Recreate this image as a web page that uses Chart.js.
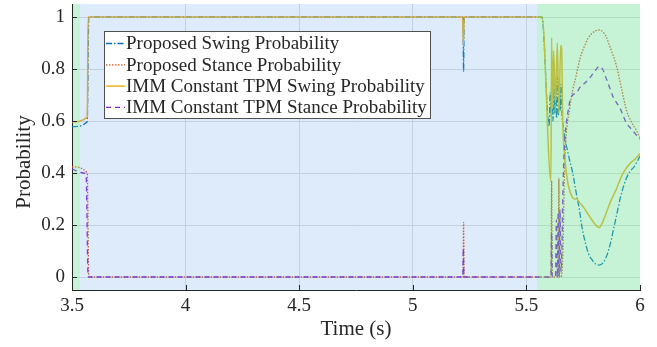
<!DOCTYPE html>
<html>
<head>
<meta charset="utf-8">
<script src="https://cdn.jsdelivr.net/npm/chart.js@4.4.1/dist/chart.umd.min.js"></script>
<style>
html, body { margin: 0; padding: 0; background: #fff; }
</style>
</head>
<body>
<canvas id="gaitChart" width="657" height="347"></canvas>
<script>
// time (s) / probability samples
var propSwingTime = [3.5, 3.567, 3.574, 5.221, 5.2235, 5.226, 5.568, 5.600, 5.605, 5.609, 5.613, 5.617, 5.621, 5.625, 5.629, 5.633, 5.637, 5.641, 5.645, 5.649, 5.653, 5.657, 5.662, 5.670, 5.680, 5.690, 5.704, 5.718, 5.733, 5.745, 5.760, 5.773, 5.790, 5.805, 5.820, 5.838, 5.855, 5.870, 5.885, 5.900, 5.915, 5.930, 5.945, 5.960, 5.975, 5.988, 6.0];
var propSwing = [0.578, 0.597, 1, 1, 0.79, 1, 1, 0.58, 0.71, 0.62, 0.77, 0.60, 0.75, 0.63, 0.74, 0.61, 0.77, 0.62, 0.76, 0.64, 0.74, 0.62, 0.58, 0.53, 0.49, 0.45, 0.40, 0.33, 0.26, 0.19, 0.13, 0.09, 0.065, 0.05, 0.046, 0.055, 0.085, 0.13, 0.19, 0.25, 0.31, 0.355, 0.39, 0.41, 0.425, 0.445, 0.465];

var propStanceTime = [3.5, 3.567, 3.574, 5.221, 5.2235, 5.226, 5.608, 5.611, 5.614, 5.640, 5.643, 5.646, 5.652, 5.660, 5.667, 5.674, 5.689, 5.704, 5.718, 5.736, 5.752, 5.773, 5.800, 5.820, 5.840, 5.853, 5.870, 5.897, 5.920, 5.941, 5.960, 5.980, 6.0];
var propStance = [0.424, 0.40, 0, 0, 0.21, 0, 0, 0.37, 0, 0, 0.38, 0, 0, 0.08, 0.38, 0.53, 0.64, 0.72, 0.77, 0.84, 0.88, 0.92, 0.945, 0.95, 0.94, 0.92, 0.88, 0.81, 0.72, 0.64, 0.60, 0.57, 0.535];

var immSwingTime = [3.5, 3.567, 3.571, 5.219, 5.2225, 5.226, 5.569, 5.608, 5.611, 5.616, 5.620, 5.628, 5.636, 5.643, 5.651, 5.655, 5.660, 5.667, 5.676, 5.685, 5.700, 5.712, 5.722, 5.735, 5.750, 5.765, 5.780, 5.800, 5.820, 5.835, 5.853, 5.870, 5.897, 5.920, 5.941, 5.960, 5.980, 6.0];
var immSwing = [0.597, 0.615, 1, 1, 0.89, 1, 1, 0.37, 0.92, 0.65, 0.87, 0.67, 0.90, 0.63, 0.89, 0.88, 0.60, 0.48, 0.40, 0.35, 0.31, 0.30, 0.30, 0.285, 0.27, 0.25, 0.23, 0.205, 0.19, 0.21, 0.25, 0.29, 0.34, 0.39, 0.42, 0.44, 0.455, 0.475];

var immStanceTime = [3.5, 3.55, 3.562, 3.571, 5.220, 5.2225, 5.225, 5.608, 5.611, 5.614, 5.628, 5.632, 5.636, 5.640, 5.644, 5.648, 5.652, 5.656, 5.660, 5.667, 5.674, 5.682, 5.692, 5.704, 5.722, 5.736, 5.750, 5.773, 5.800, 5.820, 5.835, 5.853, 5.870, 5.883, 5.897, 5.912, 5.926, 5.941, 5.956, 5.971, 5.985, 6.0];
var immStance = [0.415, 0.40, 0.39, 0, 0, 0.11, 0, 0, 0.17, 0, 0, 0.22, 0, 0.25, 0, 0.26, 0.02, 0.10, 0.30, 0.50, 0.58, 0.63, 0.68, 0.70, 0.71, 0.73, 0.74, 0.76, 0.79, 0.81, 0.80, 0.76, 0.72, 0.69, 0.67, 0.65, 0.62, 0.59, 0.575, 0.56, 0.545, 0.53];

var xTicks = [3.5, 4, 4.5, 5, 5.5, 6];
var yTicks = [0, 0.2, 0.4, 0.6, 0.8, 1];

// shaded gait phases (time edges)
var phaseEdges = [3.5, 3.537, 5.546, 6];
var phaseNames = ['stance', 'swing', 'stance'];

var serif = "'Liberation Serif', 'Times New Roman', serif";
var ink = '#262626';

function toPoints(t, v) {
	return t.map(function(x, i) { return { x: x, y: v[i] }; });
}

// drawn over the lines with alpha, like the transparent patches in the original
var phaseShade = {
	id: 'phaseShade',
	afterDatasetsDraw: function(chart) {
		var ctx = chart.ctx, a = chart.chartArea, xs = chart.scales.x;
		var fills = { swing: 'rgba(90,155,230,0.2)', stance: 'rgba(92,221,138,0.35)' };
		ctx.save();
		for (var i = 0; i < phaseNames.length; i++) {
			var x0 = Math.max(Math.round(xs.getPixelForValue(phaseEdges[i])), a.left + 1);
			var x1 = Math.round(xs.getPixelForValue(phaseEdges[i + 1]));
			ctx.fillStyle = fills[phaseNames[i]];
			ctx.fillRect(x0, a.top, x1 - x0, a.bottom - a.top);
		}
		ctx.restore();
	}
};

var extras = {
	id: 'extras',
	afterDraw: function(chart) {
		var ctx = chart.ctx, a = chart.chartArea, xs = chart.scales.x, ys = chart.scales.y;
		ctx.save();

		// inward tick marks
		ctx.strokeStyle = ink;
		ctx.lineWidth = 1;
		ctx.beginPath();
		xTicks.forEach(function(v) {
			var px = Math.round(xs.getPixelForValue(v)) + 0.5;
			ctx.moveTo(px, a.bottom);
			ctx.lineTo(px, a.bottom - 5);
		});
		yTicks.forEach(function(v) {
			var py = Math.round(ys.getPixelForValue(v)) + 0.5;
			ctx.moveTo(a.left, py);
			ctx.lineTo(a.left + 5, py);
		});
		ctx.stroke();

		// y axis title
		ctx.fillStyle = ink;
		ctx.font = '21px ' + serif;
		ctx.textAlign = 'center';
		ctx.textBaseline = 'middle';
		ctx.translate(24, 162);
		ctx.rotate(-Math.PI / 2);
		ctx.fillText('Probability', 0, 0);
		ctx.setTransform(1, 0, 0, 1, 0, 0);

		// legend box
		var lx = 104, ly = 31, lw = 326, lh = 87;
		ctx.fillStyle = '#ffffff';
		ctx.fillRect(lx, ly, lw, lh);
		ctx.strokeStyle = '#505050';
		ctx.strokeRect(lx + 0.5, ly + 0.5, lw, lh);
		ctx.font = '19px ' + serif;
		ctx.textAlign = 'left';
		chart.data.datasets.forEach(function(ds, i) {
			var ry = ly + 12.5 + i * 21.3;
			ctx.strokeStyle = ds.borderColor;
			ctx.lineWidth = ds.borderWidth;
			ctx.setLineDash(ds.borderDash || []);
			ctx.beginPath();
			ctx.moveTo(lx + 2, ry);
			ctx.lineTo(lx + 21, ry);
			ctx.stroke();
			ctx.setLineDash([]);
			ctx.fillStyle = ink;
			ctx.fillText(ds.label, lx + 22, ry + 1);
		});
		ctx.restore();
	}
};

var chartdata = {
	datasets: [
		{
			label: 'Proposed Swing Probability',
			data: toPoints(propSwingTime, propSwing),
			borderColor: '#0072BD',
			borderWidth: 1.3,
			borderDash: [6, 2, 1.5, 2],
			order: 4
		},
		{
			label: 'Proposed Stance Probability',
			data: toPoints(propStanceTime, propStance),
			borderColor: '#D95319',
			borderWidth: 1.3,
			borderDash: [1.5, 1.5],
			order: 3
		},
		{
			label: 'IMM Constant TPM Swing Probability',
			data: toPoints(immSwingTime, immSwing),
			borderColor: '#EDB120',
			borderWidth: 1.5,
			borderDash: [],
			order: 2
		},
		{
			label: 'IMM Constant TPM Stance Probability',
			data: toPoints(immStanceTime, immStance),
			borderColor: '#8228D2',
			borderWidth: 1.3,
			borderDash: [5, 4],
			order: 1
		}
	]
};
chartdata.datasets.forEach(function(ds) {
	ds.fill = false;
	ds.pointRadius = 0;
	ds.cubicInterpolationMode = 'monotone';
});

var ctx = document.getElementById('gaitChart');
var gaitChart = new Chart(ctx, {
	type: 'line',
	data: chartdata,
	plugins: [phaseShade, extras],
	options: {
		responsive: false,
		animation: false,
		layout: { padding: { left: 0, right: 17, top: 4, bottom: 0 } },
		plugins: { legend: { display: false }, tooltip: { enabled: false } },
		scales: {
			x: {
				type: 'linear',
				min: 3.5,
				max: 6,
				afterBuildTicks: function(s) { s.ticks = xTicks.map(function(v) { return { value: v }; }); },
				afterFit: function(s) { s.height = 57; s.paddingLeft = 0; s.paddingRight = 0; },
				grid: {
					drawTicks: false,
					color: function(c) { return (c.tick && (c.tick.value === 3.5 || c.tick.value === 6)) ? 'rgba(0,0,0,0)' : '#dedede'; }
				},
				border: { display: true, color: ink, width: 1 },
				ticks: {
					font: { family: serif, size: 19 },
					color: ink,
					padding: 5,
					maxRotation: 0,
					callback: function(v) { return String(v); }
				},
				title: {
					display: true,
					text: 'Time (s)',
					font: { family: serif, size: 21 },
					color: ink,
					padding: { top: 0, bottom: 5 }
				}
			},
			y: {
				min: -0.05,
				max: 1.05,
				afterBuildTicks: function(s) { s.ticks = yTicks.map(function(v) { return { value: v }; }); },
				afterFit: function(s) { s.width = 72; s.paddingTop = 0; s.paddingBottom = 0; },
				grid: { drawTicks: false, color: '#dedede' },
				border: { display: true, color: ink, width: 1 },
				ticks: {
					font: { family: serif, size: 19 },
					color: ink,
					padding: 7,
					callback: function(v) { return String(v); }
				}
			}
		}
	}
});
</script>
</body>
</html>
